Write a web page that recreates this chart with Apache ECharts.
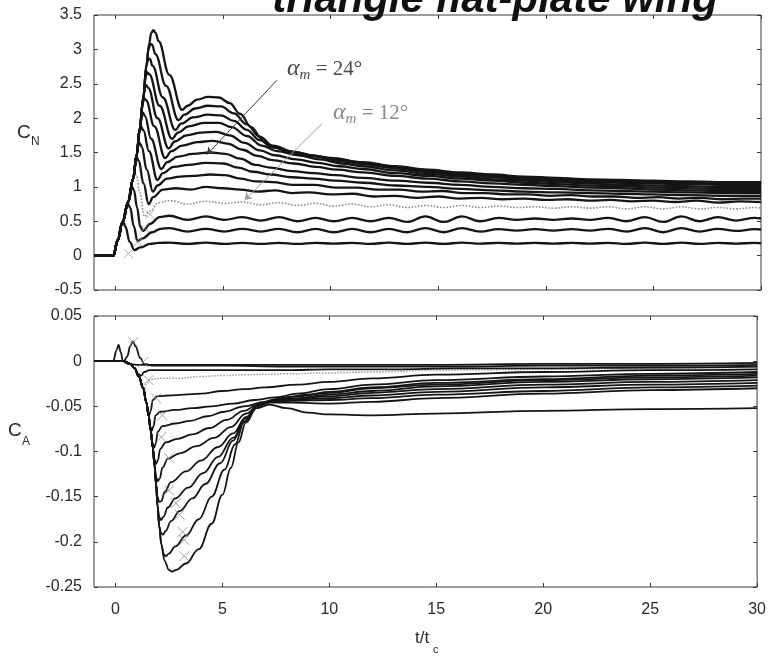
<!DOCTYPE html>
<html>
<head>
<meta charset="utf-8">
<script src="https://cdn.jsdelivr.net/npm/echarts@6.0.0/dist/echarts.min.js"></script>
<style>html,body{margin:0;padding:0;background:#fff}#chart{width:769px;height:658px}</style>
</head>
<body>
<div id="chart"></div>
<script>
// Normal-force (C_N) and axial-force (C_A) histories for a pitching triangle flat-plate wing.
const X_TICKS = [0, 5, 10, 15, 20, 25, 30];

// shared time grid for the oscillating tails of the low-angle curves
const WAVE_T = [2.5,3.35,4.2,5.05,5.9,6.75,7.6,8.45,9.3,10.15,11,11.85,12.7,13.55,14.4,15.25,16.1,16.95,17.8,18.65,19.5,20.35,21.2,22.05,22.9,23.75,24.6,25.45,26.3,27.15,28,28.85,29.7,30];

// ---- C_N curves (lowest to highest pitch amplitude) ----
const cn01Head = [[-1,0],[-0.1,0],[0.1,0.22],[0.26,0.44],[0.36,0.49],[0.46,0.42],[0.66,0.2],[0.88,0.08],[1.15,0.12],[1.6,0.17],[2.0,0.185]];
const cn01Tail = [0.19,0.17,0.19,0.17,0.185,0.17,0.185,0.17,0.185,0.175,0.185,0.17,0.19,0.17,0.19,0.17,0.19,0.175,0.185,0.175,0.185,0.175,0.185,0.175,0.185,0.17,0.19,0.17,0.19,0.17,0.185,0.175,0.185,0.18];
const cn02Head = [[-1,0],[-0.1,0],[0.1,0.22],[0.33,0.49],[0.5,0.69],[0.58,0.75],[0.68,0.7],[0.85,0.43],[1.02,0.21],[1.25,0.25],[1.7,0.34],[2.1,0.39]];
const cn02Tail = [0.4,0.35,0.39,0.35,0.39,0.35,0.39,0.34,0.39,0.34,0.39,0.34,0.39,0.34,0.4,0.34,0.4,0.35,0.385,0.365,0.385,0.365,0.385,0.365,0.39,0.35,0.4,0.34,0.4,0.35,0.39,0.36,0.385,0.38];
const cn03Head = [[-1,0],[-0.1,0],[0.1,0.22],[0.33,0.49],[0.59,0.78],[0.7,0.95],[0.77,1.0],[0.86,0.95],[1.0,0.7],[1.15,0.42],[1.28,0.36],[1.6,0.46],[2.05,0.56]];
const cn03Tail = [0.58,0.52,0.57,0.52,0.56,0.51,0.56,0.5,0.55,0.5,0.55,0.5,0.55,0.49,0.57,0.49,0.57,0.5,0.55,0.52,0.54,0.52,0.54,0.52,0.55,0.5,0.56,0.49,0.57,0.5,0.56,0.51,0.55,0.54];
const cn04Head = [[-1,0],[-0.1,0],[0.1,0.22],[0.33,0.49],[0.59,0.78],[0.82,1.12],[0.89,1.19],[0.97,1.17],[1.12,0.92],[1.35,0.57],[1.6,0.65],[2.0,0.77]];
const cn04Tail = [0.8,0.75,0.79,0.76,0.78,0.74,0.77,0.73,0.76,0.72,0.75,0.71,0.74,0.7,0.73,0.7,0.73,0.7,0.72,0.7,0.71,0.69,0.71,0.69,0.71,0.68,0.71,0.68,0.71,0.68,0.7,0.68,0.7,0.69];
const cn05 = [[-1,0],[-0.1,0],[0.1,0.22],[0.33,0.49],[0.59,0.78],[0.82,1.12],[0.93,1.35],[1.0,1.42],[1.08,1.38],[1.3,1.05],[1.54,0.75],[1.75,0.85],[2.2,0.96],[2.8,0.98],[3.5,0.96],[4.2,1.0],[5.0,0.98],[5.8,0.96],[6.6,0.93],[7.4,0.95],[8.2,0.91],[9.0,0.92],[10,0.89],[11,0.9],[12,0.86],[13,0.87],[14,0.84],[15,0.86],[16,0.83],[17,0.84],[18,0.82],[19,0.83],[20,0.81],[21,0.82],[22,0.8],[23,0.81],[24,0.79],[25,0.8],[26,0.78],[27,0.8],[28,0.77],[29,0.79],[30,0.78]];
const cn06 = [[-1,0],[-0.1,0],[0.1,0.22],[0.33,0.49],[0.59,0.78],[0.82,1.12],[0.98,1.46],[1.05,1.6],[1.12,1.64],[1.22,1.58],[1.45,1.25],[1.74,0.93],[1.95,1.02],[2.4,1.12],[3.0,1.15],[3.7,1.16],[4.4,1.18],[5.1,1.17],[5.8,1.12],[6.5,1.08],[7.3,1.07],[8.2,1.03],[9.2,1.03],[10.2,0.99],[11.2,0.99],[12.2,0.96],[13.2,0.96],[14.2,0.93],[15.2,0.94],[16.2,0.91],[17.2,0.91],[18.2,0.89],[19.2,0.89],[20.2,0.87],[21.2,0.88],[22.2,0.86],[23.2,0.86],[24.2,0.84],[25.2,0.85],[26.2,0.83],[27.2,0.84],[28.2,0.82],[29.2,0.83],[30,0.83]];
const cn07 = [[-1,0],[-0.1,0],[0.1,0.22],[0.33,0.49],[0.59,0.78],[0.82,1.12],[0.98,1.46],[1.13,1.82],[1.2,1.87],[1.3,1.82],[1.55,1.52],[1.95,1.1],[2.2,1.2],[2.7,1.29],[3.4,1.32],[4.2,1.35],[5.0,1.34],[5.7,1.28],[6.4,1.22],[7.2,1.18],[8.2,1.14],[9.2,1.12],[10.2,1.09],[11.5,1.06],[13,1.02],[14.5,1.0],[16,0.97],[17.5,0.95],[19,0.93],[20.5,0.92],[22,0.91],[23.5,0.9],[25,0.89],[26.5,0.88],[28,0.87],[30,0.87]];
const cn08 = [[-1,0],[-0.1,0],[0.1,0.22],[0.33,0.49],[0.59,0.78],[0.82,1.12],[0.98,1.46],[1.13,1.85],[1.2,2.03],[1.27,2.08],[1.37,2.03],[1.65,1.7],[2.13,1.26],[2.4,1.36],[2.9,1.44],[3.6,1.48],[4.4,1.5],[5.1,1.48],[5.8,1.41],[6.5,1.32],[7.2,1.28],[8.2,1.23],[9.2,1.2],[10.2,1.17],[11.5,1.13],[13,1.09],[14.5,1.06],[16,1.03],[17.5,1.0],[19,0.98],[20.5,0.97],[22,0.95],[23.5,0.94],[25,0.93],[26.5,0.92],[28,0.91],[30,0.91]];
const cn09 = [[-1,0],[-0.1,0],[0.1,0.22],[0.33,0.49],[0.59,0.78],[0.82,1.12],[0.98,1.46],[1.13,1.85],[1.25,2.2],[1.33,2.29],[1.42,2.26],[1.8,1.88],[2.31,1.42],[2.6,1.52],[3.1,1.6],[3.8,1.65],[4.5,1.67],[5.2,1.63],[5.9,1.54],[6.6,1.45],[7.3,1.39],[8.3,1.34],[9.3,1.29],[10.3,1.25],[11.5,1.21],[13,1.16],[14.5,1.12],[16,1.08],[17.5,1.05],[19,1.03],[20.5,1.01],[22,0.99],[23.5,0.98],[25,0.96],[26.5,0.95],[28,0.94],[30,0.94]];
const cn10 = [[-1,0],[-0.1,0],[0.1,0.22],[0.33,0.49],[0.59,0.78],[0.82,1.12],[0.98,1.46],[1.13,1.85],[1.29,2.29],[1.36,2.45],[1.42,2.48],[1.52,2.44],[1.95,2.0],[2.47,1.56],[2.75,1.66],[3.3,1.75],[4.0,1.79],[4.7,1.8],[5.3,1.75],[6.0,1.64],[6.7,1.53],[7.4,1.46],[8.4,1.4],[9.4,1.35],[10.4,1.3],[11.5,1.26],[13,1.2],[14.5,1.16],[16,1.12],[17.5,1.09],[19,1.06],[20.5,1.04],[22,1.02],[23.5,1.01],[25,0.99],[26.5,0.98],[28,0.97],[30,0.97]];
const cn11 = [[-1,0],[-0.1,0],[0.1,0.22],[0.33,0.49],[0.59,0.78],[0.82,1.12],[0.98,1.46],[1.13,1.85],[1.29,2.29],[1.4,2.6],[1.47,2.67],[1.56,2.64],[2.05,2.18],[2.63,1.7],[2.9,1.79],[3.4,1.88],[4.1,1.93],[4.8,1.93],[5.4,1.87],[6.1,1.74],[6.8,1.6],[7.5,1.52],[8.5,1.46],[9.5,1.4],[10.5,1.34],[11.5,1.3],[13,1.24],[14.5,1.19],[16,1.15],[17.5,1.11],[19,1.09],[20.5,1.07],[22,1.05],[23.5,1.03],[25,1.02],[26.5,1.01],[28,1.0],[30,1.0]];
const cn12 = [[-1,0],[-0.1,0],[0.1,0.22],[0.33,0.49],[0.59,0.78],[0.82,1.12],[0.98,1.46],[1.13,1.85],[1.29,2.29],[1.44,2.77],[1.52,2.86],[1.6,2.86],[1.72,2.76],[2.2,2.3],[2.78,1.83],[3.05,1.92],[3.6,2.01],[4.3,2.05],[4.9,2.04],[5.5,1.96],[6.1,1.83],[6.7,1.68],[7.3,1.57],[8.3,1.5],[9.3,1.44],[10.3,1.38],[11.5,1.33],[13,1.27],[14.5,1.22],[16,1.17],[17.5,1.14],[19,1.11],[20.5,1.09],[22,1.07],[23.5,1.06],[25,1.05],[26.5,1.04],[28,1.03],[30,1.03]];
const cn13 = [[-1,0],[-0.1,0],[0.1,0.22],[0.33,0.49],[0.59,0.78],[0.82,1.12],[0.98,1.46],[1.13,1.85],[1.29,2.29],[1.44,2.77],[1.53,3.0],[1.62,3.08],[1.7,3.07],[1.85,2.93],[2.35,2.47],[2.93,1.97],[3.2,2.05],[3.7,2.14],[4.3,2.18],[4.9,2.17],[5.5,2.07],[6.1,1.91],[6.7,1.73],[7.3,1.6],[8.3,1.51],[9.3,1.45],[10.3,1.4],[11.5,1.35],[13,1.29],[14.5,1.24],[16,1.19],[17.5,1.16],[19,1.13],[20.5,1.11],[22,1.09],[23.5,1.08],[25,1.07],[26.5,1.06],[28,1.05],[30,1.05]];
const cn14 = [[-1,0],[-0.1,0],[0.1,0.22],[0.33,0.49],[0.59,0.78],[0.82,1.12],[0.98,1.46],[1.13,1.85],[1.29,2.29],[1.44,2.77],[1.56,3.08],[1.66,3.24],[1.76,3.28],[1.86,3.24],[2.0,3.12],[2.5,2.63],[3.1,2.12],[3.35,2.18],[3.8,2.27],[4.3,2.31],[4.8,2.3],[5.3,2.22],[5.8,2.06],[6.3,1.87],[6.8,1.7],[7.3,1.59],[8,1.52],[9,1.46],[10,1.42],[11.5,1.36],[13,1.3],[14.5,1.25],[16,1.21],[17.5,1.18],[19,1.15],[20.5,1.13],[22,1.11],[23.5,1.1],[25,1.09],[26.5,1.08],[28,1.07],[30,1.07]];

// ---- C_A curves (same ordering) ----
const ca01 = [[-1,0],[-0.1,0],[0.05,0.012],[0.15,0.018],[0.25,0.01],[0.35,0.0],[0.6,-0.003],[1.0,-0.004],[2,-0.004],[4,-0.004],[7,-0.004],[10,-0.004],[15,-0.004],[20,-0.003],[25,-0.003],[30,-0.002]];
const ca02 = [[-1,0],[0.4,0],[0.55,0.005],[0.7,0.017],[0.82,0.022],[0.95,0.016],[1.15,0.004],[1.35,-0.003],[1.8,-0.005],[3,-0.005],[5,-0.005],[8,-0.006],[12,-0.006],[16,-0.006],[20,-0.005],[25,-0.005],[30,-0.004]];
const ca03 = [[-1,0],[0.4,0],[0.7,-0.003],[0.9,-0.008],[1.05,-0.014],[1.2,-0.016],[1.35,-0.012],[1.6,-0.01],[2.5,-0.01],[4,-0.01],[6,-0.01],[8,-0.01],[10,-0.009],[13,-0.009],[16,-0.008],[20,-0.008],[25,-0.007],[30,-0.006]];
const ca04 = [[-1,0],[0.4,0],[0.7,-0.003],[0.9,-0.008],[1.1,-0.017],[1.25,-0.027],[1.35,-0.03],[1.45,-0.025],[1.65,-0.02],[2.2,-0.019],[3,-0.019],[4,-0.017],[5,-0.016],[6,-0.015],[8,-0.014],[10,-0.013],[12,-0.012],[15,-0.01],[20,-0.009],[25,-0.008],[30,-0.007]];
const ca05 = [[-1,0],[0.4,0],[0.7,-0.003],[0.9,-0.008],[1.1,-0.017],[1.3,-0.03],[1.45,-0.046],[1.52,-0.056],[1.58,-0.06],[1.65,-0.055],[1.75,-0.043],[1.95,-0.039],[2.5,-0.038],[3.2,-0.037],[4,-0.036],[5,-0.033],[6,-0.031],[7,-0.029],[8.5,-0.026],[10,-0.023],[12,-0.019],[15,-0.015],[20,-0.012],[25,-0.01],[30,-0.009]];
const ca06 = [[-1,0],[0.4,0],[0.7,-0.003],[0.9,-0.008],[1.1,-0.017],[1.3,-0.03],[1.45,-0.046],[1.55,-0.06],[1.63,-0.072],[1.7,-0.077],[1.78,-0.072],[1.88,-0.06],[2.1,-0.056],[2.8,-0.054],[3.6,-0.052],[4.5,-0.05],[5.5,-0.047],[6.5,-0.043],[7.5,-0.04],[8.5,-0.036],[10,-0.031],[12,-0.026],[15,-0.021],[20,-0.017],[25,-0.014],[30,-0.012]];
const ca07 = [[-1,0],[0.4,0],[0.7,-0.003],[0.9,-0.008],[1.1,-0.017],[1.3,-0.03],[1.45,-0.046],[1.55,-0.06],[1.65,-0.077],[1.73,-0.09],[1.8,-0.096],[1.88,-0.092],[1.98,-0.078],[2.2,-0.072],[2.8,-0.069],[3.5,-0.066],[4.3,-0.061],[5.1,-0.056],[6,-0.05],[7,-0.045],[8,-0.04],[9,-0.037],[10,-0.034],[12,-0.029],[15,-0.024],[20,-0.02],[25,-0.016],[30,-0.014]];
const ca08 = [[-1,0],[0.4,0],[0.7,-0.003],[0.9,-0.008],[1.1,-0.017],[1.3,-0.03],[1.45,-0.046],[1.55,-0.06],[1.65,-0.077],[1.75,-0.096],[1.82,-0.108],[1.9,-0.114],[1.98,-0.11],[2.1,-0.097],[2.35,-0.09],[2.9,-0.086],[3.6,-0.081],[4.4,-0.074],[5.2,-0.065],[6,-0.055],[6.8,-0.046],[7.5,-0.042],[8.5,-0.039],[10,-0.035],[12,-0.03],[15,-0.026],[20,-0.021],[25,-0.018],[30,-0.016]];
const ca09 = [[-1,0],[0.4,0],[0.7,-0.003],[0.9,-0.008],[1.1,-0.017],[1.3,-0.03],[1.45,-0.046],[1.55,-0.06],[1.65,-0.077],[1.75,-0.096],[1.83,-0.116],[1.9,-0.128],[1.98,-0.133],[2.07,-0.13],[2.2,-0.118],[2.45,-0.108],[3.0,-0.102],[3.8,-0.094],[4.6,-0.085],[5.4,-0.073],[6.1,-0.058],[6.8,-0.047],[7.5,-0.043],[8.5,-0.041],[10,-0.037],[12,-0.033],[15,-0.028],[20,-0.023],[25,-0.02],[30,-0.018]];
const ca10 = [[-1,0],[0.4,0],[0.7,-0.003],[0.9,-0.008],[1.1,-0.017],[1.3,-0.03],[1.45,-0.046],[1.55,-0.06],[1.65,-0.077],[1.75,-0.096],[1.83,-0.116],[1.9,-0.136],[1.97,-0.15],[2.05,-0.156],[2.15,-0.155],[2.3,-0.145],[2.6,-0.134],[3.3,-0.122],[4.0,-0.11],[4.8,-0.095],[5.5,-0.08],[6.1,-0.062],[6.7,-0.048],[7.3,-0.044],[8.2,-0.042],[10,-0.039],[12,-0.035],[15,-0.031],[20,-0.026],[25,-0.023],[30,-0.021]];
const ca11 = [[-1,0],[0.4,0],[0.7,-0.003],[0.9,-0.008],[1.1,-0.017],[1.3,-0.03],[1.45,-0.046],[1.55,-0.06],[1.65,-0.077],[1.75,-0.096],[1.83,-0.116],[1.9,-0.136],[1.97,-0.16],[2.04,-0.172],[2.13,-0.176],[2.25,-0.172],[2.45,-0.162],[2.8,-0.152],[3.4,-0.14],[4.1,-0.124],[4.8,-0.106],[5.5,-0.085],[6.1,-0.063],[6.7,-0.049],[7.3,-0.045],[8.2,-0.043],[10,-0.041],[12,-0.038],[15,-0.034],[20,-0.029],[25,-0.026],[30,-0.024]];
const ca12 = [[-1,0],[0.4,0],[0.7,-0.003],[0.9,-0.008],[1.1,-0.017],[1.3,-0.03],[1.45,-0.046],[1.55,-0.06],[1.65,-0.077],[1.75,-0.096],[1.83,-0.116],[1.9,-0.136],[1.97,-0.16],[2.05,-0.183],[2.13,-0.19],[2.22,-0.192],[2.35,-0.188],[2.6,-0.177],[3.0,-0.166],[3.6,-0.152],[4.2,-0.136],[4.9,-0.113],[5.5,-0.088],[6.0,-0.067],[6.6,-0.05],[7.2,-0.045],[8.2,-0.044],[10,-0.043],[12,-0.041],[15,-0.037],[20,-0.033],[25,-0.029],[30,-0.027]];
const ca13 = [[-1,0],[0.4,0],[0.7,-0.003],[0.9,-0.008],[1.1,-0.017],[1.3,-0.03],[1.45,-0.046],[1.55,-0.06],[1.65,-0.077],[1.75,-0.096],[1.83,-0.116],[1.9,-0.136],[1.97,-0.16],[2.05,-0.183],[2.15,-0.203],[2.25,-0.213],[2.35,-0.216],[2.5,-0.213],[2.8,-0.205],[3.3,-0.193],[3.9,-0.175],[4.5,-0.15],[5.1,-0.12],[5.6,-0.092],[6.0,-0.068],[6.6,-0.05],[7.2,-0.046],[8.2,-0.046],[10,-0.047],[12,-0.045],[15,-0.041],[20,-0.036],[25,-0.032],[30,-0.03]];
const ca14 = [[-1,0],[0.4,0],[0.7,-0.003],[0.9,-0.008],[1.1,-0.017],[1.3,-0.03],[1.45,-0.046],[1.55,-0.06],[1.65,-0.077],[1.75,-0.096],[1.83,-0.116],[1.9,-0.136],[1.97,-0.16],[2.05,-0.183],[2.15,-0.203],[2.3,-0.221],[2.5,-0.231],[2.65,-0.233],[2.85,-0.231],[3.3,-0.224],[3.9,-0.208],[4.5,-0.18],[5.0,-0.148],[5.4,-0.118],[5.75,-0.09],[6.1,-0.068],[6.6,-0.052],[7.2,-0.048],[8,-0.052],[9,-0.057],[10,-0.059],[12,-0.06],[15,-0.058],[20,-0.055],[25,-0.053],[30,-0.052]];

// end-of-motion markers
const CN_CROSS = [[0.6,0.03],[1.05,0.2],[1.35,0.4],[1.6,0.6]];
const CA_CROSS = [[0.84,0.021],[1.3,-0.001],[1.55,-0.021],[1.9,-0.041],[2.2,-0.06],[2.15,-0.084],[2.5,-0.107],[2.5,-0.143],[2.83,-0.157],[3.0,-0.17],[3.14,-0.189],[3.22,-0.198],[3.22,-0.216]];

// annotation arrows (tail -> head, data coordinates)
const ARROW_24 = [[7.5, 2.55], [4.25, 1.47]];
const ARROW_12 = [[9.6, 1.92], [6.0, 0.81]];

const withTail = (head, tail) => head.concat(WAVE_T.map((t, i) => [t, tail[i]]));

const CN_LIST = [withTail(cn01Head, cn01Tail), withTail(cn02Head, cn02Tail), withTail(cn03Head, cn03Tail), withTail(cn04Head, cn04Tail),
  cn05, cn06, cn07, cn08, cn09, cn10, cn11, cn12, cn13, cn14];
const CA_LIST = [ca01, ca02, ca03, ca04, ca05, ca06, ca07, ca08, ca09, ca10, ca11, ca12, ca13, ca14];
const DOTTED_INDEX = 3;

const INK = '#151515';
const FRAME = '#3a3a3a';
const LABEL = '#2a2a2a';
const SANS = '"Liberation Sans", Arial, sans-serif';
const SERIF = '"Liberation Serif", "DejaVu Serif", serif';

function xAxisFor(grid, pos, labels) {
  return {
    type: 'value', gridIndex: grid, position: pos, min: -1, max: 30,
    axisLine: { show: false, onZero: false }, splitLine: { show: false },
    axisTick: { show: true, inside: true, length: 4, customValues: X_TICKS, lineStyle: { color: FRAME, width: 1 } },
    axisLabel: labels ? { show: true, customValues: X_TICKS, margin: 15, fontSize: 16, fontFamily: SANS, color: LABEL } : { show: false }
  };
}
function yAxisFor(grid, pos, min, max, step, labels) {
  return {
    type: 'value', gridIndex: grid, position: pos, min: min, max: max, interval: step,
    axisLine: { show: false, onZero: false }, splitLine: { show: false },
    axisTick: { show: true, inside: true, length: 4, lineStyle: { color: FRAME, width: 1 } },
    axisLabel: labels ? { show: true, margin: 12, fontSize: 16, fontFamily: SANS, color: LABEL } : { show: false }
  };
}

const series = [];
CN_LIST.forEach((d, i) => {
  const dotted = i === DOTTED_INDEX;
  series.push({
    type: 'line', xAxisIndex: 0, yAxisIndex: 0, data: d, showSymbol: false, smooth: 0.4, smoothMonotone: 'x',
    lineStyle: dotted ? { color: '#8c8c8c', width: 1.6, type: 'dotted' } : { color: INK, width: 2.3 },
    z: dotted ? 1 : 2
  });
});
CA_LIST.forEach((d, i) => {
  const dotted = i === DOTTED_INDEX;
  series.push({
    type: 'line', xAxisIndex: 2, yAxisIndex: 2, data: d, showSymbol: false, smooth: 0.4, smoothMonotone: 'x',
    lineStyle: dotted ? { color: '#9a9a9a', width: 1.5, type: 'dotted' } : { color: INK, width: 1.8 },
    z: dotted ? 1 : 2
  });
});
const CROSS = 'path://M0,0L10,10M10,0L0,10';
series.push({
  type: 'scatter', xAxisIndex: 0, yAxisIndex: 0, data: CN_CROSS, symbol: CROSS, symbolSize: 9,
  itemStyle: { color: 'none', borderColor: '#9a9a9a', borderWidth: 1 }, z: 4
});
series.push({
  type: 'scatter', xAxisIndex: 2, yAxisIndex: 2, data: CA_CROSS, symbol: CROSS, symbolSize: 10,
  itemStyle: { color: 'none', borderColor: '#8a8a8a', borderWidth: 1 }, z: 4
});
series.push({
  type: 'line', xAxisIndex: 0, yAxisIndex: 0, data: [],
  markLine: {
    silent: true, symbol: ['none', 'arrow'], symbolSize: 7, label: { show: false },
    data: [
      [{ coord: ARROW_24[0], lineStyle: { color: '#3c3c3c', width: 1, type: 'solid' } }, { coord: ARROW_24[1] }],
      [{ coord: ARROW_12[0], lineStyle: { color: '#9c9c9c', width: 1, type: 'solid' } }, { coord: ARROW_12[1] }]
    ]
  }
});

const alphaRich = (color) => ({
  a: { fontFamily: SERIF, fontStyle: 'italic', fontSize: 24, fill: color },
  m: { fontFamily: SERIF, fontStyle: 'italic', fontSize: 15, fill: color, padding: [12, 0, 0, 0] },
  r: { fontFamily: SERIF, fontSize: 21, fill: color }
});

const chart = echarts.init(document.getElementById('chart'), null, { renderer: 'canvas' });
chart.setOption({
  animation: false,
  backgroundColor: '#ffffff',
  grid: [
    { left: 94, top: 15, width: 667, height: 275, show: true, borderColor: FRAME, borderWidth: 1, backgroundColor: 'transparent' },
    { left: 94, top: 316, width: 667, height: 271, show: true, borderColor: FRAME, borderWidth: 1, backgroundColor: 'transparent' }
  ],
  xAxis: [xAxisFor(0, 'bottom', false), xAxisFor(0, 'top', false), xAxisFor(1, 'bottom', true), xAxisFor(1, 'top', false)],
  yAxis: [
    yAxisFor(0, 'left', -0.5, 3.5, 0.5, true), yAxisFor(0, 'right', -0.5, 3.5, 0.5, false),
    yAxisFor(1, 'left', -0.25, 0.05, 0.05, true), yAxisFor(1, 'right', -0.25, 0.05, 0.05, false)
  ],
  series: series,
  graphic: [
    { type: 'text', x: 495, y: 0, style: { text: 'triangle flat-plate wing', font: 'italic bold 42px ' + SANS, fill: '#111', textAlign: 'center', textVerticalAlign: 'middle' }, z: 10 },
    { type: 'text', x: 17, y: 133, style: { text: 'C', font: '19px ' + SANS, fill: LABEL, textVerticalAlign: 'middle' } },
    { type: 'text', x: 31, y: 142, style: { text: 'N', font: '12px ' + SANS, fill: LABEL, textVerticalAlign: 'middle' } },
    { type: 'text', x: 8, y: 431, style: { text: 'C', font: '19px ' + SANS, fill: LABEL, textVerticalAlign: 'middle' } },
    { type: 'text', x: 22, y: 442, style: { text: 'A', font: '12px ' + SANS, fill: LABEL, textVerticalAlign: 'middle' } },
    { type: 'text', x: 415, y: 638, style: { text: 't/t', font: '17px ' + SANS, fill: LABEL, textVerticalAlign: 'middle' } },
    { type: 'text', x: 433, y: 650, style: { text: 'c', font: '11px ' + SANS, fill: LABEL, textVerticalAlign: 'middle' } },
    { type: 'text', x: 287, y: 69, style: { text: '{a|α}{m|m}{r| = 24°}', rich: alphaRich('#4a4a4a'), textVerticalAlign: 'middle' } },
    { type: 'text', x: 333, y: 113, style: { text: '{a|α}{m|m}{r| = 12°}', rich: alphaRich('#8a8a8a'), textVerticalAlign: 'middle' } }
  ]
});
</script>
</body>
</html>
